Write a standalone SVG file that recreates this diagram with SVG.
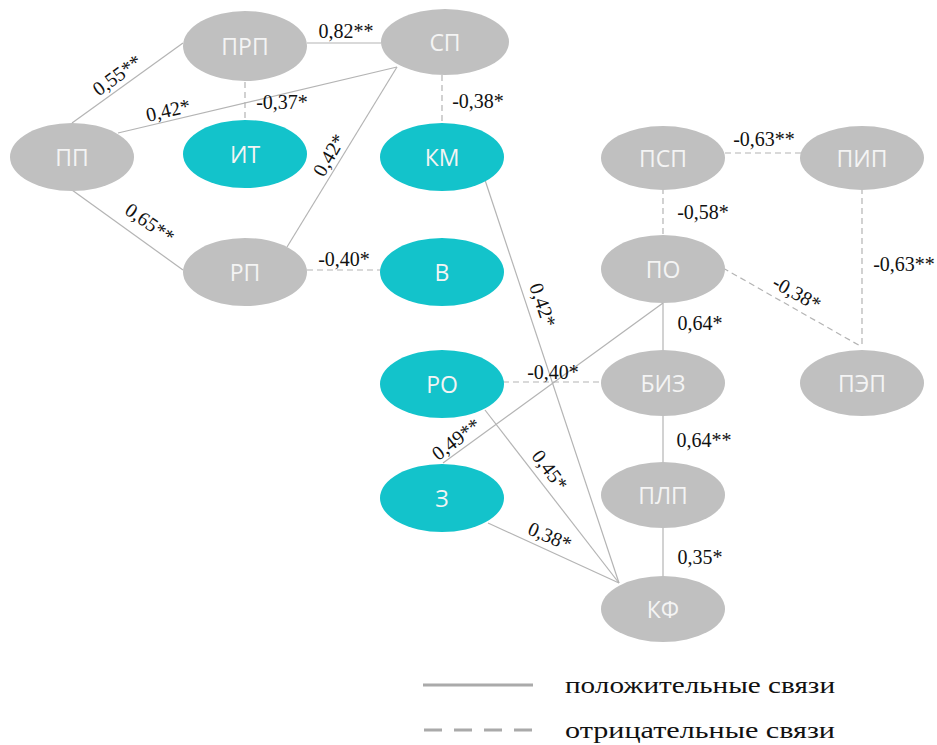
<svg xmlns="http://www.w3.org/2000/svg" width="937" height="745" viewBox="0 0 937 745">
<style>
.g{fill:#c0c0c0}
.c{fill:#13c3cb}
.nt{font-family:"Open Sans","Noto Sans",sans-serif;font-size:23px;fill:#f4f4f4;text-anchor:middle;dominant-baseline:central}
.pos{stroke:#b4b4b4;stroke-width:1.2;fill:none}
.neg{stroke:#b4b4b4;stroke-width:1.2;fill:none;stroke-dasharray:6 4}
.lb{font-family:"Liberation Serif","DejaVu Serif",serif;font-size:20px;fill:#111;text-anchor:middle;dominant-baseline:central}
.lg{font-family:"Liberation Serif","DejaVu Serif",serif;font-size:24px;fill:#111}
</style>
<rect width="937" height="745" fill="#ffffff"/>
<g id="connectors">
<line class="pos" x1="72" y1="123" x2="183" y2="43"/>
<line class="pos" x1="307" y1="43" x2="381" y2="43"/>
<line class="pos" x1="118" y1="133" x2="397" y2="67"/>
<line class="neg" x1="245" y1="82" x2="245" y2="120"/>
<line class="pos" x1="72" y1="190" x2="183" y2="270"/>
<line class="pos" x1="287" y1="247" x2="397" y2="67"/>
<line class="neg" x1="442" y1="75" x2="442" y2="123"/>
<line class="neg" x1="307" y1="270" x2="380" y2="270"/>
<line class="pos" x1="485" y1="180" x2="619" y2="583"/>
<line class="pos" x1="663" y1="303" x2="443" y2="463"/>
<line class="neg" x1="503" y1="382" x2="602" y2="382"/>
<line class="pos" x1="485" y1="410" x2="619" y2="583"/>
<line class="pos" x1="488" y1="523" x2="619" y2="583"/>
<line class="neg" x1="725" y1="153" x2="801" y2="153"/>
<line class="neg" x1="663" y1="188" x2="663" y2="236"/>
<line class="neg" x1="862" y1="188" x2="862" y2="348"/>
<line class="neg" x1="723" y1="268" x2="862" y2="347"/>
<line class="pos" x1="663" y1="303" x2="663" y2="350"/>
<line class="pos" x1="663" y1="416" x2="663" y2="463"/>
<line class="pos" x1="663" y1="528" x2="663" y2="577"/>
</g>
<g id="edge-labels">
<text class="lb" transform="translate(117,75) rotate(-36)">0,55**</text>
<text class="lb" x="346" y="31">0,82**</text>
<text class="lb" transform="translate(168,110) rotate(-13)">0,42*</text>
<text class="lb" x="282" y="102">-0,37*</text>
<text class="lb" transform="translate(150,223) rotate(35)">0,65**</text>
<text class="lb" transform="translate(329,155) rotate(-60)">0,42*</text>
<text class="lb" x="478" y="101">-0,38*</text>
<text class="lb" x="344" y="259">-0,40*</text>
<text class="lb" transform="translate(543,305) rotate(71)">0,42*</text>
<text class="lb" x="553" y="372">-0,40*</text>
<text class="lb" transform="translate(456,439) rotate(-37)">0,49**</text>
<text class="lb" transform="translate(550,470) rotate(53)">0,45*</text>
<text class="lb" transform="translate(550,536) rotate(23)">0,38*</text>
<text class="lb" x="764" y="139">-0,63**</text>
<text class="lb" x="703" y="212">-0,58*</text>
<text class="lb" x="904" y="264">-0,63**</text>
<text class="lb" transform="translate(797,293) rotate(29)">-0,38*</text>
<text class="lb" x="700" y="323">0,64*</text>
<text class="lb" x="704" y="440">0,64**</text>
<text class="lb" x="700" y="557">0,35*</text>
</g>
<g id="n-PRP"><ellipse class="g" cx="245" cy="46" rx="62" ry="35"/><text class="nt" x="245" y="46">ПРП</text></g>
<g id="n-SP"><ellipse class="g" cx="445" cy="42" rx="64" ry="33"/><text class="nt" x="445" y="42">СП</text></g>
<g id="n-PP"><ellipse class="g" cx="72" cy="157" rx="62" ry="34"/><text class="nt" x="72" y="157">ПП</text></g>
<g id="n-IT"><ellipse class="c" cx="245" cy="154" rx="62" ry="34"/><text class="nt" x="245" y="154">ИТ</text></g>
<g id="n-KM"><ellipse class="c" cx="442" cy="157" rx="62" ry="34"/><text class="nt" x="442" y="157">КМ</text></g>
<g id="n-RP"><ellipse class="g" cx="245" cy="272" rx="62" ry="34"/><text class="nt" x="245" y="272">РП</text></g>
<g id="n-V"><ellipse class="c" cx="442" cy="272" rx="62" ry="34"/><text class="nt" x="442" y="272">В</text></g>
<g id="n-PSP"><ellipse class="g" cx="663" cy="158" rx="62" ry="32"/><text class="nt" x="663" y="158">ПСП</text></g>
<g id="n-PIP"><ellipse class="g" cx="862" cy="158" rx="62" ry="32"/><text class="nt" x="862" y="158">ПИП</text></g>
<g id="n-PO"><ellipse class="g" cx="663" cy="269" rx="62" ry="34"/><text class="nt" x="663" y="269">ПО</text></g>
<g id="n-RO"><ellipse class="c" cx="442" cy="384" rx="62" ry="34"/><text class="nt" x="442" y="384">РО</text></g>
<g id="n-BIZ"><ellipse class="g" cx="663" cy="383" rx="62" ry="33"/><text class="nt" x="663" y="383">БИЗ</text></g>
<g id="n-PEP"><ellipse class="g" cx="862" cy="383" rx="62" ry="33"/><text class="nt" x="862" y="383">ПЭП</text></g>
<g id="n-Z"><ellipse class="c" cx="442" cy="498" rx="62" ry="34"/><text class="nt" x="442" y="498">З</text></g>
<g id="n-PLP"><ellipse class="g" cx="663" cy="495" rx="62" ry="33"/><text class="nt" x="663" y="495">ПЛП</text></g>
<g id="n-KF"><ellipse class="g" cx="663" cy="609" rx="62" ry="33"/><text class="nt" x="663" y="609">КФ</text></g>
<g id="legend">
<line x1="423" y1="685" x2="533" y2="685" stroke="#aaaaaa" stroke-width="3"/>
<text class="lg" x="565" y="693" textLength="270" lengthAdjust="spacingAndGlyphs">положительные связи</text>
<line x1="424" y1="730" x2="533" y2="730" stroke="#aaaaaa" stroke-width="3" stroke-dasharray="18 12"/>
<text class="lg" x="565" y="738" textLength="270" lengthAdjust="spacingAndGlyphs">отрицательные связи</text>
</g>
</svg>
